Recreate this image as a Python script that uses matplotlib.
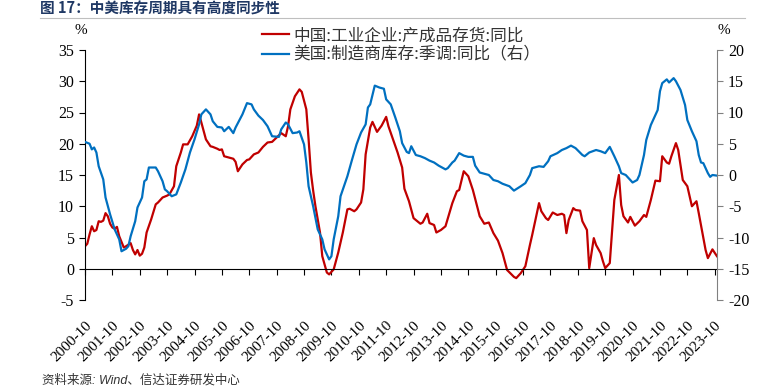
import matplotlib
matplotlib.use("Agg")
import matplotlib.pyplot as plt
from matplotlib.lines import Line2D

plt.rcParams['font.family'] = ['Liberation Serif', 'Noto Sans CJK SC', 'DejaVu Sans']
plt.rcParams['axes.unicode_minus'] = False

# months since 2000-10
cn_t = [0, 1, 2, 3, 4, 5, 6, 7, 8, 9, 10, 11, 12, 13, 14, 15, 17, 18, 20, 21, 22, 23, 24, 25, 26, 27,
        29, 31, 32, 34, 36, 37, 39, 40, 42, 43, 45, 47, 49, 50, 51, 53, 55, 56, 58, 59, 60, 61, 63, 65,
        66, 67, 69, 71, 72, 74, 76, 78, 80, 82, 84, 86, 88, 89, 90, 92, 94, 95, 97, 98, 99, 100, 101,
        103, 104, 106, 107, 109, 111, 113, 115, 116, 118, 119, 121, 122, 123, 125, 126, 128, 130, 132,
        133, 135, 137, 139, 140, 142, 144, 147, 148, 150, 151, 153, 154, 156, 158, 161, 163, 164, 166,
        168, 170, 173, 175, 177, 179, 181, 183, 185, 188, 189, 191, 193, 195, 196, 199, 200, 202, 203,
        205, 207, 209, 210, 211, 212, 214, 215, 217, 218, 220, 221, 223, 224, 226, 227, 228, 230, 232,
        234, 235, 236, 238, 239, 241, 243, 245, 246, 248, 250, 252, 253, 255, 256, 257, 259, 260, 262,
        264, 266, 268, 269, 272, 273, 275, 277]
cn_v = [3.6, 4.0, 5.5, 6.8, 6.0, 6.2, 7.6, 7.5, 7.7, 8.9, 8.4, 7.2, 6.6, 6.4, 6.7, 5.2, 3.4, 3.6, 4.1,
        3.0, 2.3, 3.0, 2.1, 2.4, 3.4, 5.8, 7.9, 10.3, 10.6, 11.4, 11.7, 11.9, 13.2, 16.4, 18.6, 19.9,
        19.9, 21.2, 22.9, 24.7, 23.4, 20.7, 19.6, 19.5, 19.2, 19.0, 19.1, 18.0, 17.8, 17.6, 17.1, 15.6,
        16.7, 17.4, 17.5, 18.3, 18.6, 19.5, 20.2, 20.3, 21.0, 21.7, 21.2, 22.8, 25.5, 27.6, 28.7, 28.3,
        25.5, 20.7, 15.4, 12.5, 10.0, 5.8, 2.0, -0.6, -0.9, -0.1, 2.6, 5.8, 9.5, 9.6, 9.2, 9.5, 10.6,
        12.7, 18.3, 22.6, 23.5, 21.9, 22.9, 24.3, 22.8, 20.7, 18.6, 16.2, 12.8, 10.8, 8.1, 7.2, 7.4,
        8.8, 7.3, 7.0, 5.8, 6.2, 6.8, 10.5, 12.4, 12.6, 15.6, 14.8, 12.6, 8.4, 7.2, 7.4, 5.7, 4.5, 2.5,
        -0.2, -1.3, -1.5, -0.7, 0.4, 3.8, 5.4, 10.5, 9.2, 8.1, 7.8, 9.0, 8.6, 8.8, 8.6, 5.7, 7.8, 9.7,
        9.4, 9.3, 7.6, 6.2, 0.1, 4.9, 3.8, 2.5, 1.2, 0.1, 0.9, 11.0, 15.0, 10.2, 8.4, 7.4, 8.3, 6.9,
        7.6, 8.6, 8.3, 11.0, 14.1, 14.0, 18.0, 17.0, 16.8, 18.0, 20.1, 19.0, 14.2, 13.2, 10.0, 10.8,
        8.9, 3.0, 1.7, 3.1, 2.0]

us_t = [0, 2, 3, 4, 5, 6, 8, 9, 11, 13, 15, 16, 17, 18, 19, 20, 22, 23, 25, 26, 27, 28, 31, 32, 34,
        35, 36, 38, 40, 42, 44, 46, 48, 50, 51, 53, 55, 56, 58, 60, 61, 63, 65, 66, 68, 69, 71, 73, 74,
        76, 78, 80, 82, 85, 86, 88, 89, 91, 93, 94, 96, 97, 98, 100, 102, 104, 105, 107, 108, 109, 111,
        112, 115, 117, 119, 121, 123, 124, 125, 127, 129, 131, 132, 134, 136, 138, 139, 141, 142, 143,
        145, 147, 149, 151, 153, 155, 158, 159, 161, 162, 164, 166, 168, 170, 171, 173, 175, 177, 179,
        181, 183, 186, 188, 191, 193, 195, 196, 199, 201, 203, 204, 207, 209, 211, 213, 215, 218, 219,
        221, 224, 226, 228, 230, 232, 234, 235, 237, 239, 240, 242, 243, 245, 246, 248, 251, 252, 253,
        255, 256, 258, 259, 261, 263, 264, 266, 268, 269, 270, 271, 273, 274, 275, 277]
us_v = [5.3, 5.0, 4.1, 4.4, 3.6, 1.4, -0.7, -3.6, -6.3, -8.7, -10.3, -12.2, -12.0, -11.8, -11.4, -9.8,
        -7.4, -5.2, -3.6, -1.0, -0.7, 1.2, 1.2, 0.6, -1.0, -2.3, -2.6, -3.4, -3.1, -1.2, 0.9, 3.6, 5.7,
        8.1, 9.7, 10.5, 9.7, 8.6, 7.7, 7.6, 7.0, 7.7, 6.7, 7.6, 9.0, 9.7, 11.5, 11.3, 10.5, 9.5, 8.8,
        7.8, 6.2, 6.1, 7.3, 8.4, 8.1, 6.7, 6.8, 7.0, 4.9, 2.0, -1.8, -5.0, -8.7, -10.3, -11.9, -13.5,
        -13.0, -10.3, -6.6, -3.4, -0.2, 2.4, 4.9, 6.8, 8.1, 10.8, 11.3, 14.3, 14.0, 13.8, 12.1, 11.3,
        9.2, 7.0, 5.1, 3.7, 3.5, 4.6, 3.2, 3.0, 2.7, 2.3, 2.0, 1.5, 0.9, 1.1, 2.0, 2.3, 3.5, 3.1, 2.9,
        2.9, 1.5, 0.4, 0.2, 0.0, -0.8, -1.0, -1.4, -1.8, -2.5, -1.8, -1.3, 0.0, 1.1, 1.4, 1.3, 2.2, 3.0,
        3.5, 4.0, 4.3, 4.7, 4.3, 3.2, 3.0, 3.6, 4.0, 3.8, 3.5, 4.5, 3.0, 1.4, 0.3, 0.0, -0.8, -1.2,
        -0.8, 0.0, 3.2, 5.6, 8.0, 10.4, 13.4, 14.7, 15.3, 14.8, 15.5, 15.0, 13.6, 11.2, 8.8, 7.0, 5.4,
        3.2, 2.0, 1.9, 0.3, -0.3, 0.0, -0.1]

years = list(range(2000, 2024))
tick_pos = [12 * (y - 2000) for y in years]
tick_labels = [f"{y}-10" for y in years]

cn_label = "中国:工业企业:产成品存货:同比"
us_label = "美国:制造商库存:季调:同比（右）"

fig = plt.figure(figsize=(7.83, 3.86), dpi=100)
ax = fig.add_axes([85 / 783, 1 - 300 / 386, 632 / 783, 250 / 386])
ax2 = ax.twinx()

l1, = ax.plot(cn_t, cn_v, color='#C00000', lw=1.6)
l2, = ax2.plot(us_t, us_v, color='#0070C0', lw=1.6)

ax.set_xlim(0, 277)
ax.set_ylim(-5, 35)
ax.set_yticks(range(-5, 36, 5))
ax2.set_ylim(-20, 20)
ax2.set_yticks(range(-20, 21, 5))

ax.spines['top'].set_visible(False)
ax.spines['right'].set_visible(False)
ax.spines['bottom'].set_position(('data', 0))
for s in ['top', 'left', 'bottom']:
    ax2.spines[s].set_visible(False)
ax2.spines['right'].set_color('#808080')

ax.set_xticks(tick_pos)
ax.set_xticklabels(tick_labels, rotation=45, ha='right', rotation_mode='anchor', fontsize=11)
ax.tick_params(axis='x', direction='out', length=4, pad=32)
ax.tick_params(axis='y', direction='out', length=4, labelsize=11.5, pad=4)
ax2.tick_params(axis='y', direction='out', length=4, color='#808080', labelsize=11.5, pad=4)

fig.text(81 / 783, 1 - 31 / 386, "%", fontsize=11, ha='center', va='center')
fig.text(724 / 783, 1 - 31 / 386, "%", fontsize=11, ha='center', va='center')

fig.legend([l1, l2], [cn_label, us_label], loc='upper left',
           bbox_to_anchor=(254 / 783, 1 - 19 / 386), frameon=False,
           handlelength=1.6, handletextpad=0.25, labelspacing=0.15, borderpad=0,
           prop={'family': ['Noto Sans CJK SC'], 'size': 12}, labelcolor='#333333')

fig.text(40 / 783, 1 - 9 / 386, "图 17：中美库存周期具有高度同步性", fontsize=10.5,
         fontweight='bold', color='#1F3864', ha='left', va='center',
         family=['Noto Sans CJK SC', 'DejaVu Sans'])
fig.add_artist(Line2D([40 / 783, 745 / 783], [1 - 18 / 386, 1 - 18 / 386],
                      color='#BFBFBF', lw=0.8))

fig.text(42 / 783, 1 - 380 / 386, "资料来源: Wind、信达证券研发中心", fontsize=9,
         style='italic', color='#333333', ha='left', va='center',
         family=['Liberation Sans', 'Noto Sans CJK SC'])

fig.savefig("out.png", dpi=100)
